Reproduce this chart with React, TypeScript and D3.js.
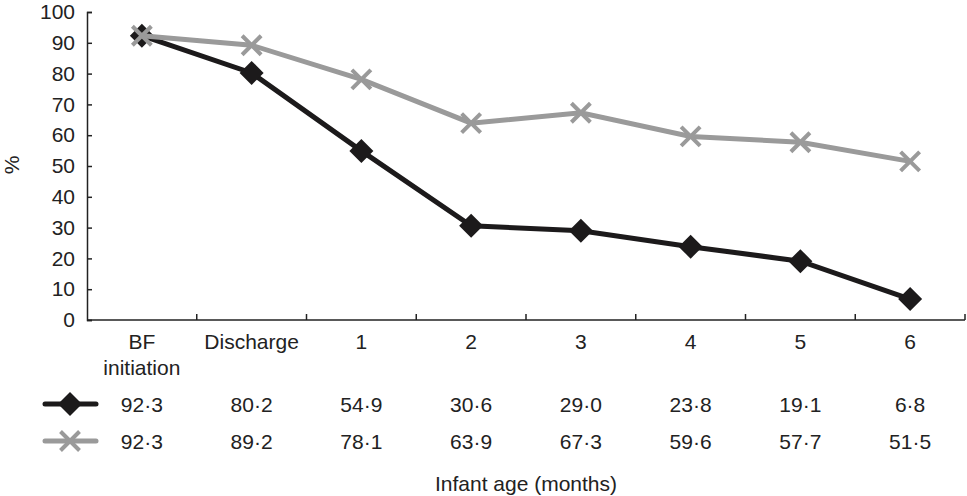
import React, { useEffect, useRef } from "react";
import * as d3 from "d3";

const categories = ["BF initiation", "Discharge", "1", "2", "3", "4", "5", "6"];
const categoryLines = [["BF", "initiation"], ["Discharge"], ["1"], ["2"], ["3"], ["4"], ["5"], ["6"]];
const seriesBlack = [92.3, 80.2, 54.9, 30.6, 29.0, 23.8, 19.1, 6.8];
const seriesGrey = [92.3, 89.2, 78.1, 63.9, 67.3, 59.6, 57.7, 51.5];
const yTicks = [0, 10, 20, 30, 40, 50, 60, 70, 80, 90, 100];

const width = 967;
const height = 496;
const font = "'Liberation Sans', Arial, sans-serif";
const black = "#1c1a1b";
const grey = "#9a9a9a";
const textSize = 21;

const fmt = (v: number) => v.toFixed(1).replace(".", "\u00b7");

const App: React.FC = () => {
  const ref = useRef<SVGSVGElement>(null);

  useEffect(() => {
    const svg = d3.select(ref.current);
    svg.selectAll("*").remove();

    const left = 87;
    const right = 965;
    const top = 12;
    const bottom = 320;

    const x = d3.scaleBand<string>().domain(categories).range([left, right]);
    const y = d3.scaleLinear().domain([0, 100]).range([bottom, top]);

    // y axis
    const yAxis = svg
      .append("g")
      .attr("transform", `translate(${left},0)`)
      .call(d3.axisLeft(y).tickValues(yTicks).tickSize(-5).tickPadding(12));
    yAxis.select(".domain").attr("stroke", "#222").attr("stroke-width", 1.5);
    yAxis.selectAll(".tick line").attr("stroke", "#222").attr("stroke-width", 1.5);
    yAxis.selectAll("text").attr("font-family", font).attr("font-size", textSize).attr("fill", "#222");

    // x axis line and ticks at band boundaries
    svg
      .append("line")
      .attr("x1", left)
      .attr("x2", right)
      .attr("y1", bottom)
      .attr("y2", bottom)
      .attr("stroke", "#222")
      .attr("stroke-width", 1.5);
    categories.forEach((c) => {
      const bx = (x(c) as number) + x.bandwidth();
      svg
        .append("line")
        .attr("x1", bx)
        .attr("x2", bx)
        .attr("y1", bottom)
        .attr("y2", bottom - 6)
        .attr("stroke", "#222")
        .attr("stroke-width", 1.5);
    });

    // category labels
    categories.forEach((c, i) => {
      const cx = (x(c) as number) + x.bandwidth() / 2;
      categoryLines[i].forEach((line, j) => {
        svg
          .append("text")
          .attr("x", cx)
          .attr("y", 349 + j * 26)
          .attr("text-anchor", "middle")
          .attr("font-family", font)
          .attr("font-size", textSize)
          .attr("fill", "#222")
          .text(line);
      });
    });

    // % label
    svg
      .append("text")
      .attr("transform", "translate(19,165) rotate(-90)")
      .attr("text-anchor", "middle")
      .attr("font-family", font)
      .attr("font-size", textSize)
      .attr("fill", "#222")
      .text("%");

    const line = d3
      .line<number>()
      .x((_, i) => (x(categories[i]) as number) + x.bandwidth() / 2)
      .y((d) => y(d));

    const diamond = (g: d3.Selection<any, unknown, null, undefined>, cx: number, cy: number) => {
      g.append("path")
        .attr("d", `M${cx},${cy - 12}L${cx + 12},${cy}L${cx},${cy + 12}L${cx - 12},${cy}Z`)
        .attr("fill", black);
    };
    const cross = (g: d3.Selection<any, unknown, null, undefined>, cx: number, cy: number) => {
      const s = 9.5;
      g.append("path")
        .attr("d", `M${cx - s},${cy - s}L${cx + s},${cy + s}M${cx - s},${cy + s}L${cx + s},${cy - s}`)
        .attr("stroke", grey)
        .attr("stroke-width", 4)
        .attr("fill", "none");
    };

    const plot = svg.append("g");
    plot
      .append("path")
      .datum(seriesBlack)
      .attr("d", line)
      .attr("fill", "none")
      .attr("stroke", black)
      .attr("stroke-width", 5);
    seriesBlack.forEach((v, i) => diamond(plot as any, (x(categories[i]) as number) + x.bandwidth() / 2, y(v)));
    plot
      .append("path")
      .datum(seriesGrey)
      .attr("d", line)
      .attr("fill", "none")
      .attr("stroke", grey)
      .attr("stroke-width", 5);
    seriesGrey.forEach((v, i) => cross(plot as any, (x(categories[i]) as number) + x.bandwidth() / 2, y(v)));

    // data table with legend keys
    const rows = [
      { values: seriesBlack, color: black, marker: diamond, y: 404 },
      { values: seriesGrey, color: grey, marker: cross, y: 441 },
    ];
    rows.forEach((r) => {
      svg
        .append("line")
        .attr("x1", 45)
        .attr("x2", 96)
        .attr("y1", r.y)
        .attr("y2", r.y)
        .attr("stroke", r.color)
        .attr("stroke-width", 5)
        .attr("stroke-linecap", "round");
      r.marker(svg as any, 70, r.y);
      r.values.forEach((v, i) => {
        svg
          .append("text")
          .attr("x", (x(categories[i]) as number) + x.bandwidth() / 2)
          .attr("y", r.y + 7.5)
          .attr("text-anchor", "middle")
          .attr("font-family", font)
          .attr("font-size", textSize)
          .attr("fill", "#222")
          .text(fmt(v));
      });
    });

    svg
      .append("text")
      .attr("x", (left + right) / 2)
      .attr("y", 491)
      .attr("text-anchor", "middle")
      .attr("font-family", font)
      .attr("font-size", textSize)
      .attr("fill", "#222")
      .text("Infant age (months)");
  }, []);

  return (
    <svg
      ref={ref}
      width={width}
      height={height}
      style={{ position: "absolute", left: 0, top: 0, background: "#fff" }}
    />
  );
};

export default App;
